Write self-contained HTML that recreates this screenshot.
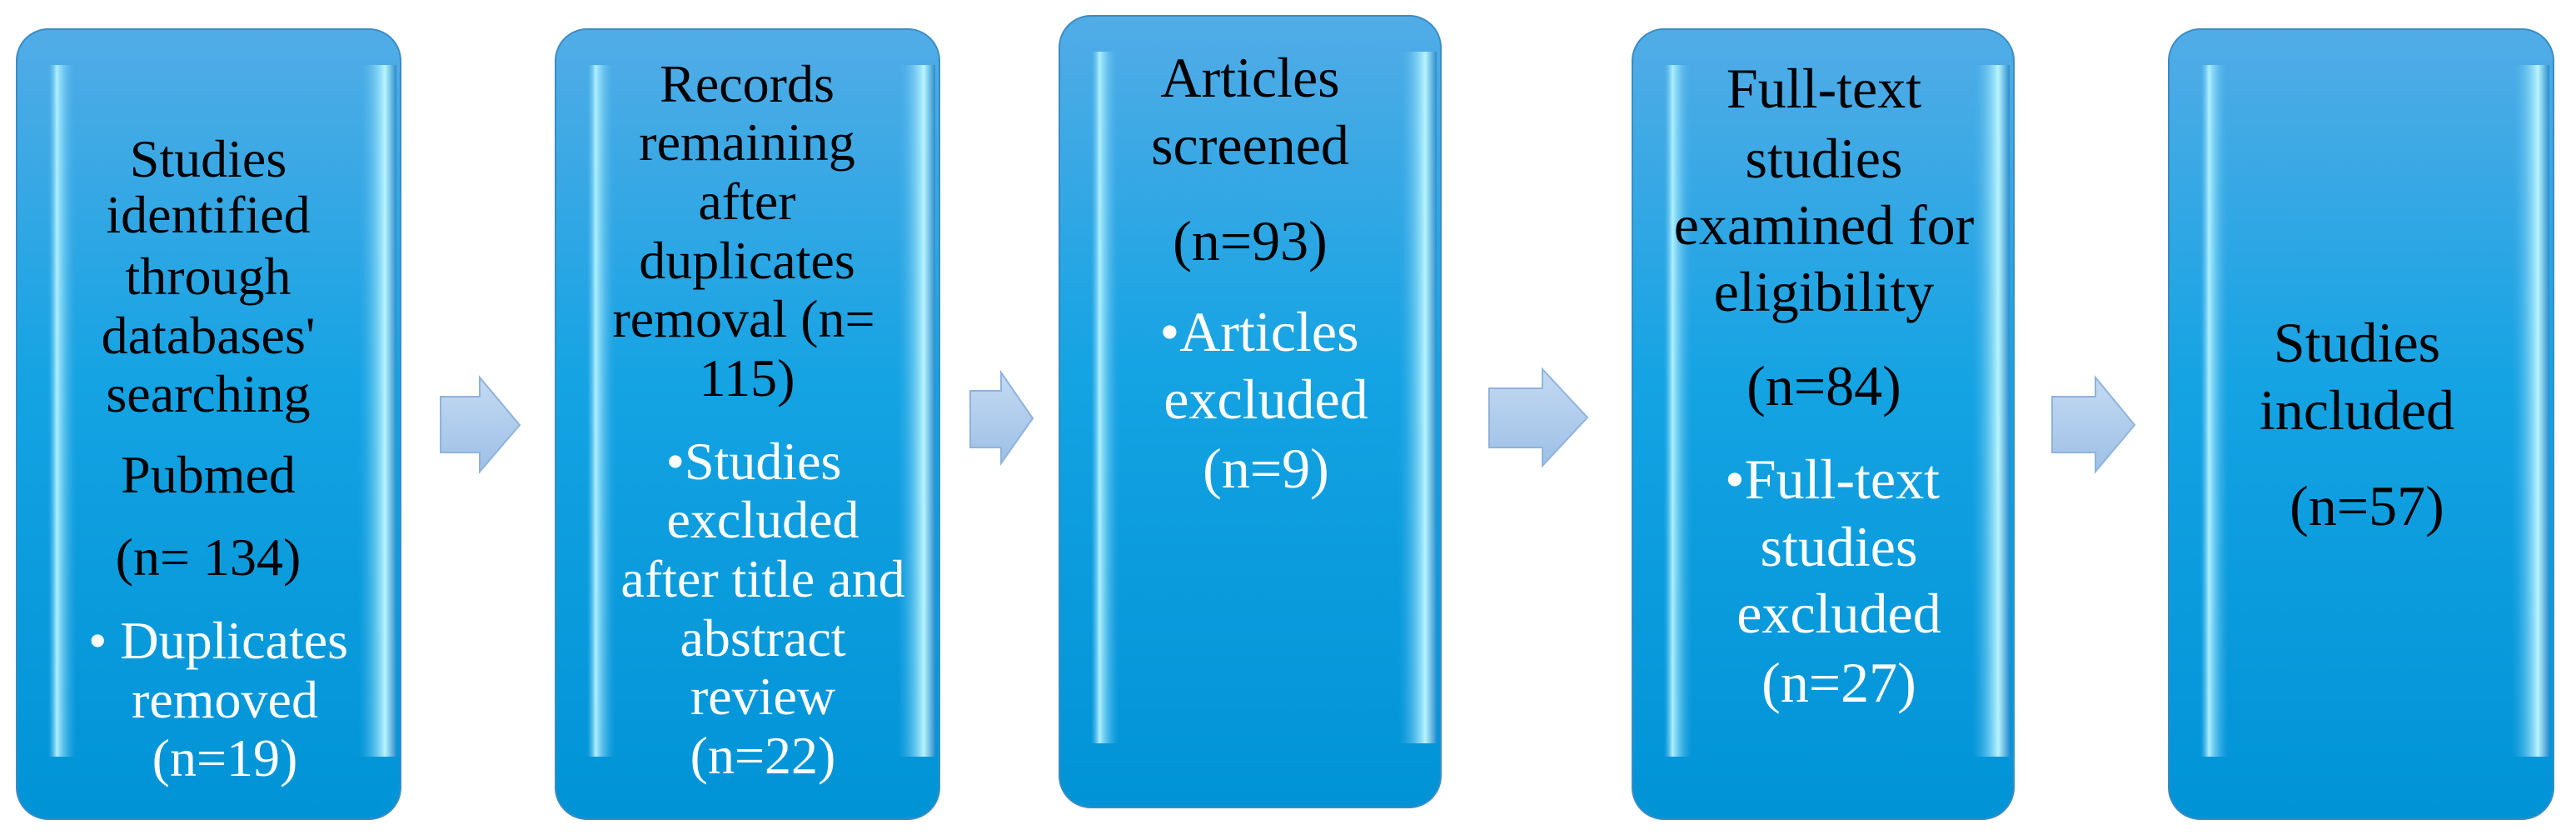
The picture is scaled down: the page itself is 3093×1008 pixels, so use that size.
<!DOCTYPE html>
<html><head><meta charset="utf-8"><style>
html,body{margin:0;padding:0;background:#fff;}
svg{display:block;}
text{font-family:"Liberation Serif",serif;text-anchor:middle;}
.k{fill:#000;} .w{fill:#fff;}
</style></head><body>
<svg width="3093" height="1008" viewBox="0 0 3093 1008" xmlns="http://www.w3.org/2000/svg">
<defs>
<linearGradient id="bg" x1="0" y1="0" x2="0" y2="1">
<stop offset="0" stop-color="#52ace6"/><stop offset="0.45" stop-color="#14a3e3"/><stop offset="1" stop-color="#0093d6"/>
</linearGradient>
<linearGradient id="ls" x1="0" y1="0" x2="1" y2="0">
<stop offset="0" stop-color="#5cb8ec" stop-opacity="0"/><stop offset="0.3" stop-color="#aef0ff"/><stop offset="1" stop-color="#3aa8e6" stop-opacity="0"/>
</linearGradient>
<linearGradient id="rs" x1="0" y1="0" x2="1" y2="0">
<stop offset="0" stop-color="#3aa8e6" stop-opacity="0"/><stop offset="0.7" stop-color="#b8f4ff"/><stop offset="1" stop-color="#2a8ccc"/>
</linearGradient>
<linearGradient id="ar" x1="0" y1="0" x2="0" y2="1">
<stop offset="0" stop-color="#c4daf2"/><stop offset="1" stop-color="#9dc0e6"/>
</linearGradient>
<g id="box">
<rect x="0" y="0" width="100%" height="100%" fill="url(#bg)"/>
</g>
</defs>

<!-- boxes -->
<g>
<rect x="20" y="35" width="461" height="948" rx="38" fill="url(#bg)" stroke="#3a8cc4" stroke-width="2"/>
<rect x="58" y="78" width="34" height="830" fill="url(#ls)"/>
<rect x="430" y="78" width="46" height="830" fill="url(#rs)"/>
<rect x="667" y="35" width="461" height="948" rx="38" fill="url(#bg)" stroke="#3a8cc4" stroke-width="2"/>
<rect x="705" y="78" width="34" height="830" fill="url(#ls)"/>
<rect x="1077" y="78" width="46" height="830" fill="url(#rs)"/>
<rect x="1272" y="19" width="458" height="950" rx="38" fill="url(#bg)" stroke="#3a8cc4" stroke-width="2"/>
<rect x="1310" y="62" width="34" height="830" fill="url(#ls)"/>
<rect x="1679" y="62" width="46" height="830" fill="url(#rs)"/>
<rect x="1960" y="35" width="458" height="948" rx="38" fill="url(#bg)" stroke="#3a8cc4" stroke-width="2"/>
<rect x="1998" y="78" width="34" height="830" fill="url(#ls)"/>
<rect x="2367" y="78" width="46" height="830" fill="url(#rs)"/>
<rect x="2604" y="35" width="462" height="948" rx="38" fill="url(#bg)" stroke="#3a8cc4" stroke-width="2"/>
<rect x="2642" y="78" width="34" height="830" fill="url(#ls)"/>
<rect x="3015" y="78" width="46" height="830" fill="url(#rs)"/>
</g>

<!-- arrows -->
<polygon points="529,476 576,476 576,453 624,510 576,566 576,543 529,543" fill="url(#ar)" stroke="#8fb3dc" stroke-width="2"/>
<polygon points="1165,469 1202,469 1202,447 1240,502 1202,556 1202,537 1165,537" fill="url(#ar)" stroke="#8fb3dc" stroke-width="2"/>
<polygon points="1788,466 1852,466 1852,443 1906,501 1852,559 1852,537 1788,537" fill="url(#ar)" stroke="#8fb3dc" stroke-width="2"/>
<polygon points="2464,476 2516,476 2516,453 2563,510 2516,566 2516,543 2464,543" fill="url(#ar)" stroke="#8fb3dc" stroke-width="2"/>

<!-- box1 text -->
<g font-size="64">
<text class="k" x="250" y="212">Studies</text>
<text class="k" x="250" y="279">identified</text>
<text class="k" x="250" y="353">through</text>
<text class="k" x="250" y="424">databases'</text>
<text class="k" x="250" y="494">searching</text>
<text class="k" x="250" y="591">Pubmed</text>
<text class="k" x="250" y="690">(n= 134)</text>
<text class="w" x="262" y="790">•  Duplicates</text>
<text class="w" x="270" y="861">removed</text>
<text class="w" x="270" y="931">(n=19)</text>
</g>
<!-- box2 -->
<g font-size="64">
<text class="k" x="897" y="122">Records</text>
<text class="k" x="897" y="192">remaining</text>
<text class="k" x="897" y="263">after</text>
<text class="k" x="897" y="334">duplicates</text>
<text class="k" x="893" y="404">removal (n=</text>
<text class="k" x="897" y="475">115)</text>
<text class="w" x="905" y="575">•Studies</text>
<text class="w" x="916" y="645">excluded</text>
<text class="w" x="916" y="716">after title and</text>
<text class="w" x="916" y="787">abstract</text>
<text class="w" x="916" y="857">review</text>
<text class="w" x="916" y="928">(n=22)</text>
</g>
<!-- box3 -->
<g font-size="68">
<text class="k" x="1501" y="116">Articles</text>
<text class="k" x="1501" y="197">screened</text>
<text class="k" x="1501" y="312">(n=93)</text>
<text class="w" x="1512" y="421">•Articles</text>
<text class="w" x="1520" y="502">excluded</text>
<text class="w" x="1520" y="585">(n=9)</text>
</g>
<!-- box4 -->
<g font-size="68">
<text class="k" x="2190" y="129">Full-text</text>
<text class="k" x="2190" y="213">studies</text>
<text class="k" x="2190" y="293">examined for</text>
<text class="k" x="2190" y="373">eligibility</text>
<text class="k" x="2190" y="486">(n=84)</text>
<text class="w" x="2200" y="598">•Full-text</text>
<text class="w" x="2208" y="679">studies</text>
<text class="w" x="2208" y="759">excluded</text>
<text class="w" x="2208" y="842">(n=27)</text>
</g>
<!-- box5 -->
<g font-size="68">
<text class="k" x="2830" y="434">Studies</text>
<text class="k" x="2830" y="515">included</text>
<text class="k" x="2842" y="630">(n=57)</text>
</g>
</svg>
</body></html>
